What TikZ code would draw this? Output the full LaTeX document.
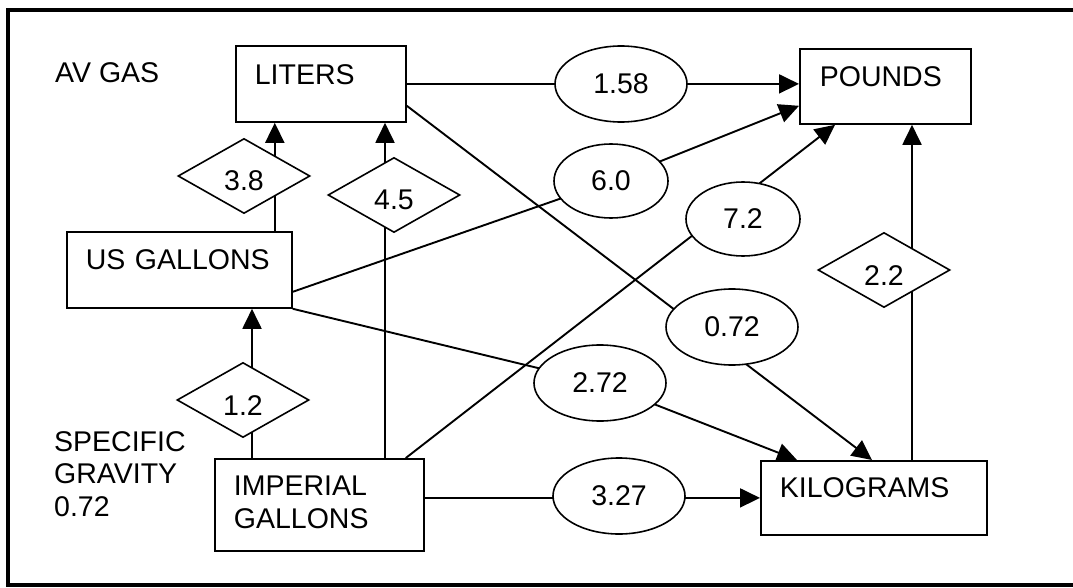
\documentclass[tikz,border=0pt]{standalone}
\usepackage{fontspec}
\setmainfont{Liberation Sans}
\usetikzlibrary{shapes.geometric,arrows.meta,calc}
\pgfdeclarelayer{bg}
\pgfsetlayers{bg,main}
\begin{document}
\begin{tikzpicture}[x=1pt,y=-1pt,
  every node/.style={font=\fontsize{28.5}{32.5}\selectfont},
  conn/.style={line width=1.9pt},
  arr/.style={conn,-{Triangle[length=20pt,width=19pt]}},
  box/.style={draw,line width=1.8pt,anchor=north west,align=left,inner ysep=0pt,inner xsep=19pt},
  ell/.style={draw,ellipse,fill=white,line width=1.6pt,minimum width=132pt,minimum height=76pt,inner sep=0pt},
  dia/.style={draw,diamond,fill=white,line width=1.6pt,minimum width=132pt,minimum height=75pt,inner sep=0pt,text height=30pt,text depth=0pt},
  lbl/.style={anchor=base west,align=left,inner sep=0pt}
]
\useasboundingbox (0,0) rectangle (1073,588);
\draw[line width=3.5pt] (1073,10) -- (8,10) -- (8,585) -- (1073,585);

% boxes
\node[box,text width=132pt,text height=39pt,text depth=37pt] (lit) at (235,45) {LITERS};
\node[box,text width=131pt,text height=38pt,text depth=37pt,inner xsep=20pt] (lb) at (799,48) {POUNDS};
\node[box,text width=187pt,text height=38pt,text depth=38pt] (us) at (66,231) {US GALLONS};
\node[box,text width=171pt,text height=37pt,text depth=55pt] (imp) at (214,458) {IMPERIAL\\GALLONS};
\node[box,text width=188pt,text height=37pt,text depth=37pt] (kg) at (760,460) {KILOGRAMS};

% free labels
\node[lbl] (av) at (55,83) {AV GAS};
\node[lbl] (sg) at (54,516) {SPECIFIC\\GRAVITY\\0.72};

% ellipses
\node[ell] (e158) at (621,84) {1.58};
\node[ell,minimum width=114pt,minimum height=74pt] (e60) at (611,181) {6.0};
\node[ell,minimum width=114pt,minimum height=74pt] (e72) at (743,219) {7.2};
\node[ell] (e072) at (732,327) {0.72};
\node[ell] (e272) at (600,383) {2.72};
\node[ell] (e327) at (619,496) {3.27};

% diamonds
\node[dia] (d38) at (244,176) {3.8};
\node[dia] (d45) at (394,195) {4.5};
\node[dia] (d12) at (243,400) {1.2};
\node[dia] (d22) at (884,270) {2.2};

% connector end points
\coordinate (c38) at ($(us.north east)+(-18,0)$);
\coordinate (c45) at ($(imp.north west)+(171,0)$);
\coordinate (c12) at ($(imp.north west)+(38,0)$);
\coordinate (c22) at ($(kg.north west)+(152,0)$);
\coordinate (c60a) at ($(us.south east)+(0,-17)$);
\coordinate (c60b) at ($(lb.south west)+(0,-19)$);
\coordinate (c72a) at ($(imp.north east)+(-19,0)$);
\coordinate (c72b) at ($(lb.south west)+(36,0)$);
\coordinate (c072a) at ($(lit.south east)+(0,-17)$);
\coordinate (c072b) at ($(kg.north west)+(112,0)$);
\coordinate (c272b) at ($(kg.north west)+(37,0)$);

\begin{pgfonlayer}{bg}
\draw[arr] (c38) -- (c38 |- lit.south);
\draw[arr] (c45) -- (c45 |- lit.south);
\draw[arr] (c12) -- (c12 |- us.south);
\draw[arr] (c22) -- (c22 |- lb.south);
\draw[arr] (lit.east) -- (lit.east -| lb.west);
\draw[arr] (kg.west -| imp.east) -- (kg.west);
\draw[arr] (c60a) -- (e60.center) -- (c60b);
\draw[arr] (c72a) -- (c72b);
\draw[arr] (c072a) -- (c072b);
\draw[arr] (us.south east) -- (e272.center) -- (c272b);
\end{pgfonlayer}
\end{tikzpicture}
\end{document}
